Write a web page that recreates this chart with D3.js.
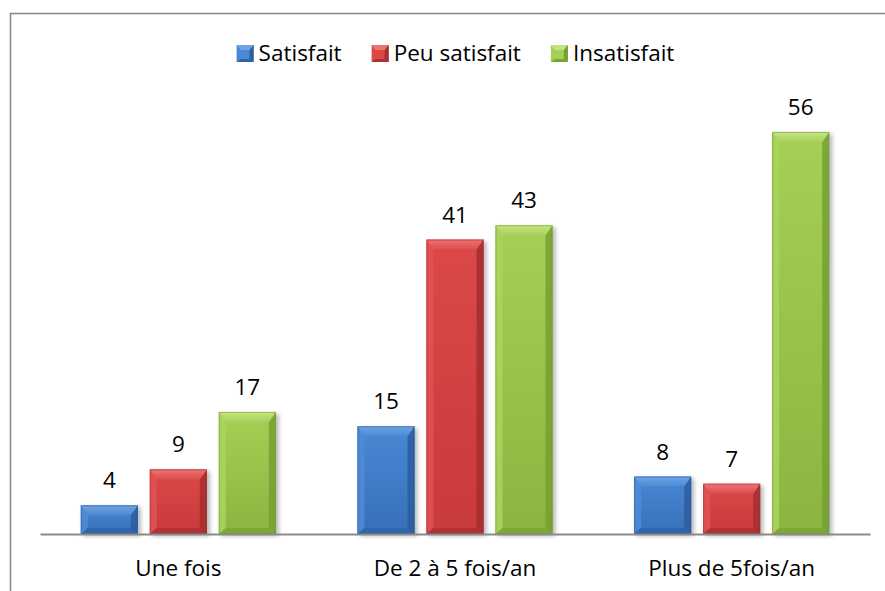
<!DOCTYPE html>
<html>
<head>
<meta charset="utf-8">
<script src="https://cdn.jsdelivr.net/npm/d3@7"></script>
<style>
  html, body { margin: 0; padding: 0; background: #fff; }
  svg { display: block; }
  text { font-family: "Open Sans", "Noto Sans", sans-serif; fill: #000; }
</style>
</head>
<body>
<svg id="chart" width="885" height="591"></svg>
<script>
// Fréquence vs. satisfaction
const categories = ["Une fois", "De 2 à 5 fois/an", "Plus de 5fois/an"];
const seriesNames = ["Satisfait", "Peu satisfait", "Insatisfait"];
const satisfait = [4, 15, 8];
const peuSatisfait = [9, 41, 7];
const insatisfait = [17, 43, 56];
const seriesValues = [satisfait, peuSatisfait, insatisfait];

// Bevel palettes per series: body top/bottom, top bevel, left, right, bottom
const palettes = [
  { top: "#4a88d4", bot: "#3670b9", bevelT: "#6fa3e3", bevelT2: "#4d8ad4", left: "#4f8cd6", right: "#2c5d9f", bevelB: "#2f63a6", edge: "#2b5894" },
  { top: "#dc4848", bot: "#c93a3a", bevelT: "#ef7373", bevelT2: "#dc4d4d", left: "#e05252", right: "#a52e2e", bevelB: "#ad3131", edge: "#9c2b2b" },
  { top: "#a6cf55", bot: "#8cb540", bevelT: "#c4e482", bevelT2: "#a8d05a", left: "#acd35e", right: "#76a032", bevelB: "#7ca436", edge: "#6f9530" }
];

const W = 885, H = 591;
const svg = d3.select("#chart");
const fontSize = 22.5;

svg.append("rect").attr("width", W).attr("height", H).attr("fill", "#fff");

// Outer frame (extends past the visible canvas on the right and bottom)
svg.append("rect")
  .attr("x", 10.5).attr("y", 13.5)
  .attr("width", 900).attr("height", 620)
  .attr("fill", "none")
  .attr("stroke", "#8a8a8a")
  .attr("stroke-width", 1.6);

const defs = svg.append("defs");
const shadow = defs.append("filter").attr("id", "shadow")
  .attr("x", "-20%").attr("y", "-20%").attr("width", "140%").attr("height", "140%");
shadow.append("feGaussianBlur").attr("stdDeviation", 2.2);

palettes.forEach((p, i) => {
  const g = defs.append("linearGradient").attr("id", "body" + i)
    .attr("x1", 0).attr("y1", 0).attr("x2", 0).attr("y2", 1);
  g.append("stop").attr("offset", "0%").attr("stop-color", p.top);
  g.append("stop").attr("offset", "100%").attr("stop-color", p.bot);
  const t = defs.append("linearGradient").attr("id", "bevel" + i)
    .attr("x1", 0).attr("y1", 0).attr("x2", 0).attr("y2", 1);
  t.append("stop").attr("offset", "0%").attr("stop-color", p.bevelT);
  t.append("stop").attr("offset", "100%").attr("stop-color", p.bevelT2);
});

// Scales
const baseY = 534;
const x0 = d3.scaleBand().domain(categories).range([40, 870]).padding(0);
const groupW = 195;
const x1 = d3.scaleBand().domain(seriesNames).range([0, groupW]).paddingInner(0.174).paddingOuter(0);
const y = d3.scaleLinear().domain([0, 60]).range([baseY, baseY - 60 * 7.18]);

// Bars
const rows = [];
categories.forEach((c, ci) => {
  seriesNames.forEach((s, si) => {
    rows.push({ cat: c, series: s, si: si, value: seriesValues[si][ci] });
  });
});

const bars = svg.append("g").attr("class", "bars");
const bw = x1.bandwidth();
const poly = pts => pts.map(q => q.join(",")).join(" ");

rows.forEach(d => {
  const p = palettes[d.si];
  const x = x0(d.cat) + (x0.bandwidth() - groupW) / 2 + x1(d.series);
  const yt = y(d.value);
  const h = baseY - yt;
  const bs = Math.min(7, h / 3), bt = Math.min(10, h / 3), bb = Math.min(6, h / 4);
  const g = bars.append("g");

  g.append("rect")
    .attr("x", x + 2).attr("y", yt + 2)
    .attr("width", bw + 1).attr("height", h)
    .attr("fill", "#000").attr("opacity", 0.28)
    .attr("filter", "url(#shadow)");

  g.append("rect")
    .attr("x", x).attr("y", yt).attr("width", bw).attr("height", h)
    .attr("fill", `url(#body${d.si})`);

  // left bevel
  g.append("polygon").attr("points", poly([[x, yt], [x + bs, yt + bt], [x + bs, baseY - bb], [x, baseY]]))
    .attr("fill", p.left).attr("opacity", 0.85);
  // right bevel
  g.append("polygon").attr("points", poly([[x + bw, yt], [x + bw - bs, yt + bt], [x + bw - bs, baseY - bb], [x + bw, baseY]]))
    .attr("fill", p.right).attr("opacity", 0.85);
  // bottom bevel
  g.append("polygon").attr("points", poly([[x, baseY], [x + bs, baseY - bb], [x + bw - bs, baseY - bb], [x + bw, baseY]]))
    .attr("fill", p.bevelB).attr("opacity", 0.85);
  // top bevel
  g.append("polygon").attr("points", poly([[x, yt], [x + bw, yt], [x + bw - bs, yt + bt], [x + bs, yt + bt]]))
    .attr("fill", `url(#bevel${d.si})`);

  g.append("rect")
    .attr("x", x + 0.5).attr("y", yt + 0.5).attr("width", bw - 1).attr("height", h - 1)
    .attr("fill", "none").attr("stroke", p.edge).attr("stroke-width", 1).attr("opacity", 0.5);

  // value label
  svg.append("text")
    .attr("x", x + bw / 2).attr("y", yt - 17)
    .attr("text-anchor", "middle")
    .style("font-size", fontSize + "px")
    .text(d.value);
});

// Category axis
const axis = svg.append("g")
  .attr("transform", `translate(0,${baseY})`)
  .call(d3.axisBottom(x0).tickSize(0).tickPadding(0));
axis.select(".domain").attr("stroke", "#8a8a8a").attr("stroke-width", 1.8);
axis.selectAll("text")
  .attr("y", 576 - baseY).attr("dy", 0)
  .style("font-size", fontSize + "px")
  .style("font-family", '"Open Sans", "Noto Sans", sans-serif')
  .attr("fill", "#000");

// Legend, centred over the plot
const legend = svg.append("g").attr("class", "legend");
const sw = 17, swGap = 5, itemGap = 30, legendBase = 61;
let cursor = 0;
const items = seriesNames.map((name, i) => {
  const g = legend.append("g");
  const p = palettes[i];
  const t = g.append("text")
    .attr("x", sw + swGap).attr("y", legendBase)
    .style("font-size", fontSize + "px")
    .text(name);
  const tw = t.node().getComputedTextLength();
  const sy = legendBase - 16;
  g.append("rect").attr("x", 0).attr("y", sy).attr("width", sw).attr("height", sw).attr("fill", p.top);
  g.append("polygon").attr("points", poly([[0, sy], [sw, sy], [sw - 4, sy + 5], [4, sy + 5]])).attr("fill", p.bevelT);
  g.append("polygon").attr("points", poly([[sw, sy], [sw - 4, sy + 5], [sw - 4, sy + sw - 3], [sw, sy + sw]])).attr("fill", p.right);
  g.append("polygon").attr("points", poly([[0, sy + sw], [4, sy + sw - 3], [sw - 4, sy + sw - 3], [sw, sy + sw]])).attr("fill", p.bevelB);
  const w = sw + swGap + tw;
  const item = { g, offset: cursor, w };
  cursor += w + itemGap;
  return item;
});
const totalW = cursor - itemGap;
const legendX = 455.5 - totalW / 2;
items.forEach(it => it.g.attr("transform", `translate(${legendX + it.offset},0)`));
</script>
</body>
</html>
